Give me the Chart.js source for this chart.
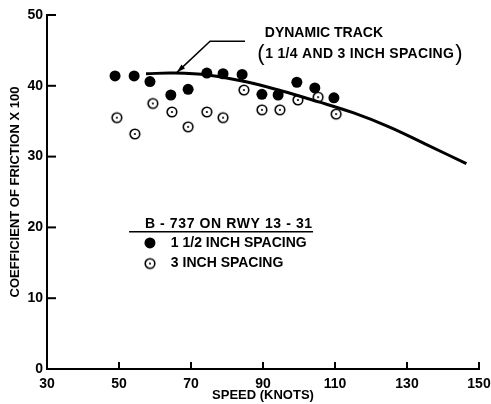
<!DOCTYPE html>
<html>
<head>
<meta charset="utf-8">
<script src="https://cdn.jsdelivr.net/npm/chart.js@4.4.1/dist/chart.umd.min.js"></script>
<style>
  body { margin:0; background:#fff; }
  #wrap { width:491px; height:404px; }
</style>
</head>
<body>
<div id="wrap"><canvas id="chart" width="491" height="404"></canvas></div>
<script>
// data
const speed15 = [48.9, 54.2, 58.6, 64.4, 69.2, 74.4, 78.9, 84.2, 89.7, 94.2, 99.4, 104.4, 109.7];
const mu15    = [41.4, 41.4, 40.6, 38.7, 39.5, 41.8, 41.7, 41.6, 38.8, 38.7, 40.5, 39.7, 38.3];
const speed3  = [49.4, 54.4, 59.4, 64.7, 69.2, 74.4, 78.9, 84.7, 89.7, 94.7, 99.7, 105.3, 110.3];
const mu3     = [35.5, 33.2, 37.5, 36.3, 34.2, 36.3, 35.5, 39.4, 36.6, 36.6, 38.0, 38.4, 36.0];
const trackSpeed = [57.5, 65, 75, 85, 95, 105, 115, 125, 135, 146.5];
const trackMu    = [41.7, 41.8, 41.5, 40.6, 39.3, 37.8, 36.2, 34.2, 31.8, 29.0];
const xTicks = [30, 50, 70, 90, 110, 130, 150];
const yTicks = [0, 10, 20, 30, 40, 50];

const FONT = "'Liberation Sans', Arial, sans-serif";

const toPts = (xs, ys) => xs.map((v, i) => ({x: v, y: ys[i]}));

// open circle with a centre dot
function openDot() {
  const c = document.createElement('canvas');
  c.width = 14; c.height = 14;
  const g = c.getContext('2d');
  g.strokeStyle = '#000'; g.lineWidth = 1.6;
  g.beginPath(); g.arc(7, 7, 4.8, 0, Math.PI*2); g.stroke();
  g.fillStyle = '#000';
  g.beginPath(); g.arc(7, 7, 1.1, 0, Math.PI*2); g.fill();
  return c;
}
const openImg = openDot();

// inward ticks, annotation and legend block
const extras = {
  id: 'extras',
  afterDraw(chart) {
    const {ctx, scales:{x, y}, chartArea:a} = chart;
    ctx.save();
    ctx.strokeStyle = '#000'; ctx.fillStyle = '#000';
    ctx.lineWidth = 2;
    xTicks.slice(1).forEach(v => {
      const px = x.getPixelForValue(v);
      ctx.beginPath(); ctx.moveTo(px, a.bottom); ctx.lineTo(px, a.bottom - 7); ctx.stroke();
    });
    yTicks.slice(1).forEach(v => {
      const py = y.getPixelForValue(v);
      ctx.beginPath(); ctx.moveTo(a.left, py); ctx.lineTo(a.left + 9, py); ctx.stroke();
    });

    // leader arrow to the dynamic track curve
    const P = (vx, vy) => [x.getPixelForValue(vx), y.getPixelForValue(vy)];
    const [hx0, hy] = P(75.3, 46.3);
    const [hx1] = P(85, 46.3);
    const [tx, ty] = P(66.1, 41.9);
    ctx.lineWidth = 1.5;
    ctx.beginPath(); ctx.moveTo(hx1, hy); ctx.lineTo(hx0, hy); ctx.lineTo(tx, ty); ctx.stroke();
    const ang = Math.atan2(ty - hy, tx - hx0);
    ctx.beginPath();
    ctx.moveTo(tx, ty);
    ctx.lineTo(tx - 9*Math.cos(ang - 0.3), ty - 9*Math.sin(ang - 0.3));
    ctx.lineTo(tx - 9*Math.cos(ang + 0.3), ty - 9*Math.sin(ang + 0.3));
    ctx.closePath(); ctx.fill();

    ctx.font = 'bold 14px ' + FONT;
    ctx.textBaseline = 'middle';
    ctx.textAlign = 'left';
    const [ax, ay] = P(90.5, 47.4);
    ctx.fillText('DYNAMIC TRACK', ax, ay);
    const [bx, by] = P(88.4, 44.5);
    ctx.font = '22px ' + FONT;
    ctx.fillText('(', bx, by);
    ctx.font = 'bold 14px ' + FONT;
    ctx.letterSpacing = '0.3px';
    const line2 = '1 1/4 AND 3 INCH SPACING';
    ctx.fillText(line2, bx + 8, by);
    const w2 = ctx.measureText(line2).width;
    ctx.font = '22px ' + FONT;
    ctx.fillText(')', bx + 9 + w2, by);

    // legend block
    ctx.font = 'bold 14px ' + FONT;
    ctx.letterSpacing = '0.6px';
    const [lx, ly] = P(57.2, 20.4);
    ctx.fillText('B - 737 ON RWY 13 - 31', lx, ly);
    ctx.letterSpacing = '0px';
    const [ux0, uy] = P(52.8, 19.4);
    const [ux1] = P(103.9, 19.4);
    ctx.lineWidth = 1.5;
    ctx.beginPath(); ctx.moveTo(ux0, uy); ctx.lineTo(ux1, uy); ctx.stroke();
    const [mx, m1] = P(58.6, 17.8);
    const [, m2] = P(58.6, 14.9);
    ctx.beginPath(); ctx.arc(mx, m1, 5.5, 0, Math.PI*2); ctx.fill();
    ctx.drawImage(openImg, mx - 7, m2 - 7);
    const [tx2] = P(64.4, 0);
    ctx.fillText('1 1/2 INCH SPACING', tx2, m1);
    ctx.fillText('3 INCH SPACING', tx2, m2);
    ctx.restore();
  }
};

new Chart(document.getElementById('chart'), {
  type: 'scatter',
  data: {
    datasets: [
      { label: '1 1/2 inch spacing', data: toPts(speed15, mu15),
        pointStyle: 'circle', pointRadius: 5.5, backgroundColor: '#000', borderColor: '#000', borderWidth: 0 },
      { label: '3 inch spacing', data: toPts(speed3, mu3),
        pointStyle: openImg, pointRadius: 7 },
      { label: 'Dynamic track', data: toPts(trackSpeed, trackMu), showLine: true,
        borderColor: '#000', borderWidth: 3, pointRadius: 0, tension: 0.4, fill: false }
    ]
  },
  options: {
    responsive: false,
    animation: false,
    layout: { padding: { top: 15, right: 0, left: 0, bottom: 0 } },
    plugins: { legend: { display: false }, tooltip: { enabled: false } },
    scales: {
      x: {
        type: 'linear', min: 30, max: 150,
        afterFit: s => { s.height = 35; s.paddingRight = 12; s.paddingLeft = 0; },
        afterBuildTicks: s => { s.ticks = xTicks.map(v => ({value: v})); },
        grid: { drawOnChartArea: false, drawTicks: false },
        border: { color: '#000', width: 2 },
        ticks: { color: '#000', padding: 7, maxRotation: 0, font: { family: FONT, weight: 'bold', size: 14 } },
        title: { display: true, text: 'SPEED (KNOTS)', color: '#000', padding: { top: 0, bottom: 1 },
                 font: { family: FONT, weight: 'bold', size: 13 } }
      },
      y: {
        min: 0, max: 50,
        afterFit: s => { s.width = 47; s.paddingTop = 0; s.paddingBottom = 0; },
        afterBuildTicks: s => { s.ticks = yTicks.map(v => ({value: v})); },
        grid: { drawOnChartArea: false, drawTicks: false },
        border: { color: '#000', width: 2 },
        ticks: { color: '#000', padding: 4, font: { family: FONT, weight: 'bold', size: 14 } },
        title: { display: true, text: 'COEFFICIENT OF FRICTION X 100', color: '#000', padding: { top: 8, bottom: 0 },
                 font: { family: FONT, weight: 'bold', size: 13 } }
      }
    }
  },
  plugins: [extras]
});
</script>
</body>
</html>
